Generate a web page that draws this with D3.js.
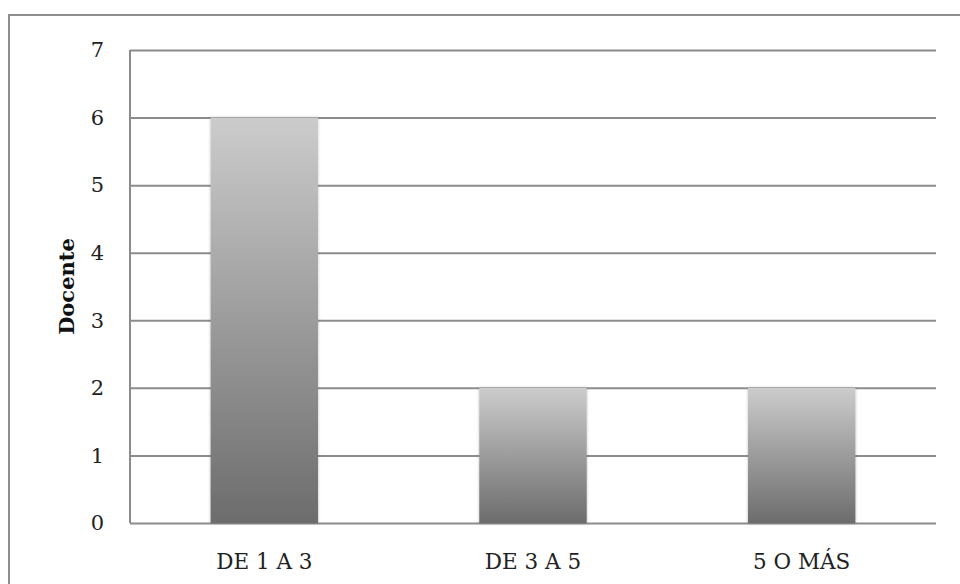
<!DOCTYPE html>
<html><head><meta charset="utf-8">
<script src="https://cdn.jsdelivr.net/npm/d3@7/dist/d3.min.js"></script>
<style>body{margin:0;background:#fff;} svg{display:block;}</style>
</head><body>
<svg id="chart" width="960" height="584"></svg>
<script>
const categories = ["DE 1 A 3", "DE 3 A 5", "5 O MÁS"];
const values = [6, 2, 2];
const yTicks = [0, 1, 2, 3, 4, 5, 6, 7];
const yTitle = "Docente";

const svg = d3.select("#chart");
const W = 960, H = 584;
const m = {left: 130, right: 24, top: 50, bottom: 61};
const innerW = W - m.left - m.right, innerH = H - m.top - m.bottom;

// outer border
svg.append("rect").attr("x", 9).attr("y", 15).attr("width", 1000).attr("height", 700)
  .attr("fill", "#fff").attr("stroke", "#8e8e8e").attr("stroke-width", 2);

const defs = svg.append("defs");
const grad = defs.append("linearGradient").attr("id", "barGrad")
  .attr("x1", 0).attr("y1", 0).attr("x2", 0).attr("y2", 1);
grad.append("stop").attr("offset", "0%").attr("stop-color", "#cccccc");
grad.append("stop").attr("offset", "100%").attr("stop-color", "#6c6c6c");
const f = defs.append("filter").attr("id", "sh").attr("x", "-10%").attr("y", "-5%").attr("width", "120%").attr("height", "110%");
f.append("feGaussianBlur").attr("in", "SourceAlpha").attr("stdDeviation", 1.5).attr("result", "b");
f.append("feComponentTransfer").attr("in", "b").attr("result", "b2")
  .append("feFuncA").attr("type", "linear").attr("slope", 0.25);
const fm = f.append("feMerge");
fm.append("feMergeNode").attr("in", "b2");
fm.append("feMergeNode").attr("in", "SourceGraphic");

const g = svg.append("g").attr("transform", `translate(${m.left},${m.top})`);

const x = d3.scaleBand().domain(categories).range([0, innerW]).paddingInner(0.6).paddingOuter(0.3);
const y = d3.scaleLinear().domain([0, 7]).range([innerH, 0]);

// gridlines
const grid = g.append("g").call(d3.axisLeft(y).tickValues(yTicks).tickSize(-innerW).tickFormat(""));
grid.select(".domain").remove();
grid.selectAll(".tick line").attr("stroke", "#8c8c8c").attr("stroke-width", 2);

// bars
g.selectAll("rect.bar").data(values).join("rect").attr("class", "bar")
  .attr("x", (d, i) => x(categories[i]))
  .attr("y", d => y(d))
  .attr("width", x.bandwidth())
  .attr("height", d => innerH - y(d))
  .attr("fill", "url(#barGrad)")
  .attr("filter", "url(#sh)");

// y axis line
g.append("line").attr("x1", 0).attr("x2", 0).attr("y1", 0).attr("y2", innerH)
  .attr("stroke", "#8c8c8c").attr("stroke-width", 2);

// y tick labels
const ya = g.append("g").call(d3.axisLeft(y).tickValues(yTicks).tickSize(0).tickPadding(26).tickFormat(d3.format("d")));
ya.select(".domain").remove();
ya.selectAll("text").attr("font-family", "'DejaVu Serif', serif").attr("font-size", 21).attr("fill", "#222");

// x labels
const xa = g.append("g").attr("transform", `translate(0,${innerH})`)
  .call(d3.axisBottom(x).tickSize(0).tickPadding(31));
xa.select(".domain").remove();
xa.selectAll("text").attr("font-family", "'DejaVu Serif', serif").attr("font-size", 21.5).attr("fill", "#222");

// y title
svg.append("text").attr("transform", `translate(74,${m.top + innerH / 2}) rotate(-90)`)
  .attr("text-anchor", "middle").attr("font-family", "'DejaVu Serif', serif")
  .attr("font-weight", "bold").attr("font-size", 21).attr("fill", "#111").text(yTitle);
</script>
</body></html>
